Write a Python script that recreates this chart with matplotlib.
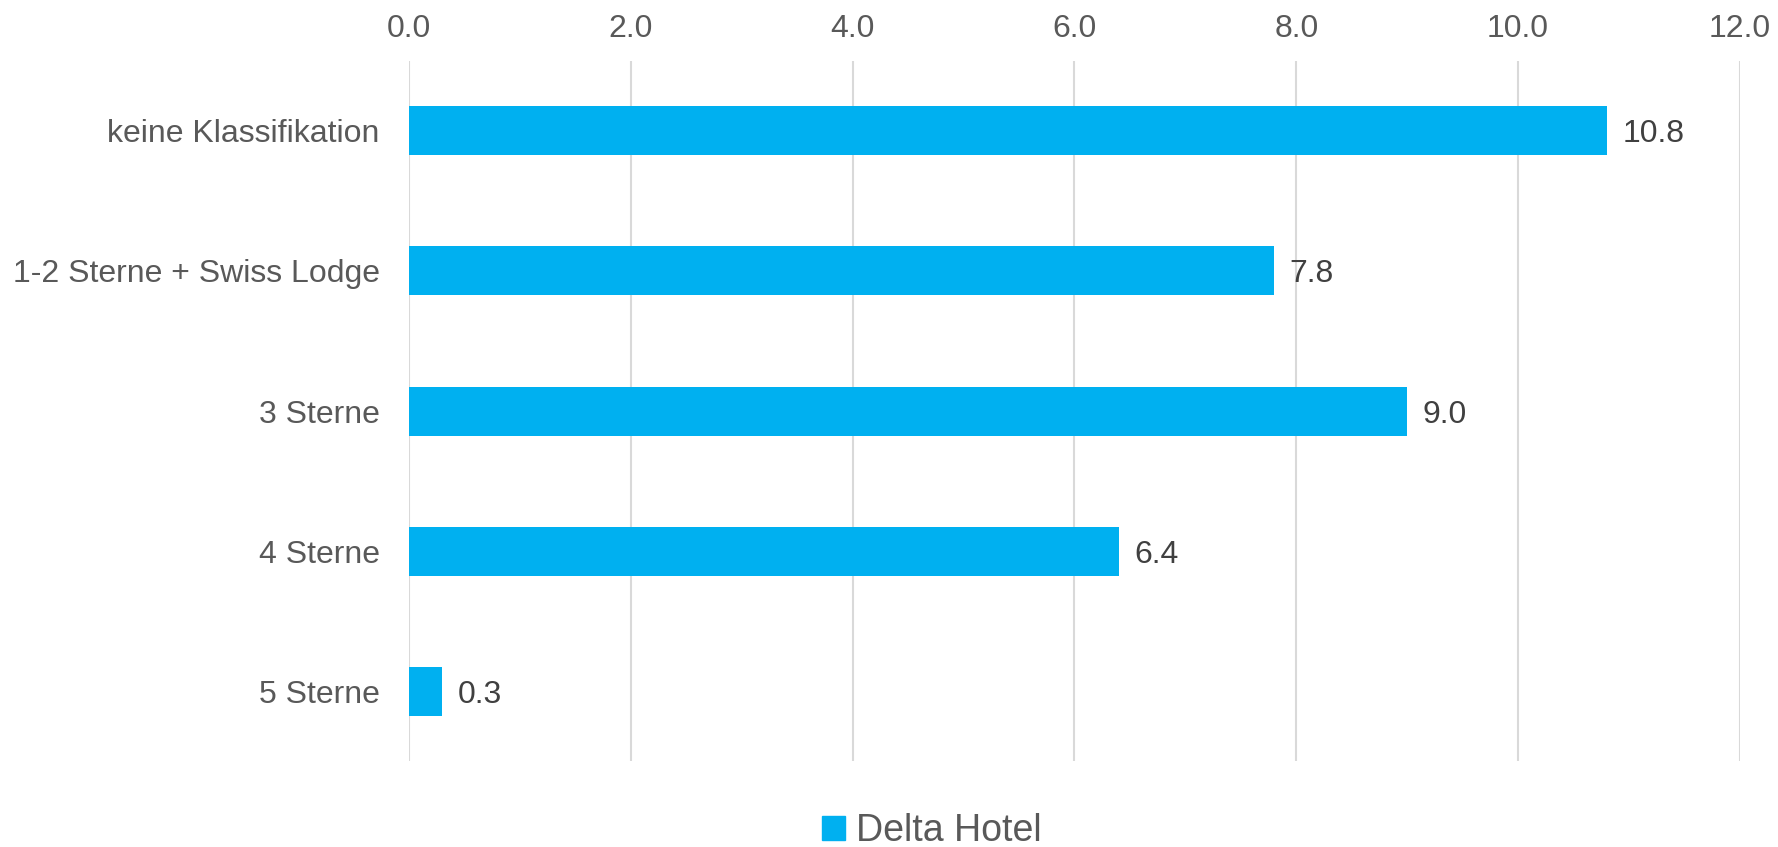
import numpy as np
from matplotlib import pyplot as plt
from matplotlib.patches import Patch

# data
categories = ['keine Klassifikation', '1-2 Sterne + Swiss Lodge', '3 Sterne', '4 Sterne', '5 Sterne']
values = [10.8, 7.8, 9.0, 6.4, 0.3]
xticks = [0, 2, 4, 6, 8, 10, 12]
series_name = 'Delta Hotel'

bar_color = '#00B0F0'
plt.rcParams['font.family'] = ['Liberation Sans', 'DejaVu Sans']

fig = plt.figure(figsize=(17.78, 8.47), dpi=100)
ax = fig.add_axes([0.230, 0.1015, 0.7486, 0.8265])

y = np.arange(len(categories))
ax.barh(y, values, height=0.35, color=bar_color, zorder=3)

for yi, v in zip(y, values):
    ax.annotate(f'{v:.1f}', (v, yi), xytext=(11, 0), textcoords='offset points',
                va='center_baseline', ha='left', fontsize=23, color='#404040')

ax.set_xlim(0, 12)
ax.set_ylim(len(categories) - 0.5, -0.5)
ax.set_xticks(xticks)
ax.set_xticklabels([f'{t:.1f}' for t in xticks])
ax.set_yticks(y)
ax.set_yticklabels(categories)

ax.xaxis.tick_top()
ax.tick_params(axis='x', length=0, pad=12.5, labelsize=23, labelcolor='#595959')
ax.tick_params(axis='y', length=0, pad=21, labelsize=23, labelcolor='#595959')
for lbl in ax.get_yticklabels():
    lbl.set_verticalalignment('center_baseline')
ax.grid(axis='x', color='#D9D9D9', linewidth=1.5, zorder=0)
for s in ax.spines.values():
    s.set_visible(False)

handles = [Patch(color=bar_color, label=series_name)]
fig.legend(handles=handles, loc='center', bbox_to_anchor=(932 / 1778, 1 - 831 / 847),
           frameon=False, fontsize=27, handlelength=0.6, handleheight=0.6,
           handletextpad=0.3, labelcolor='#595959')

fig.savefig('out.png', dpi=100, facecolor='white')
